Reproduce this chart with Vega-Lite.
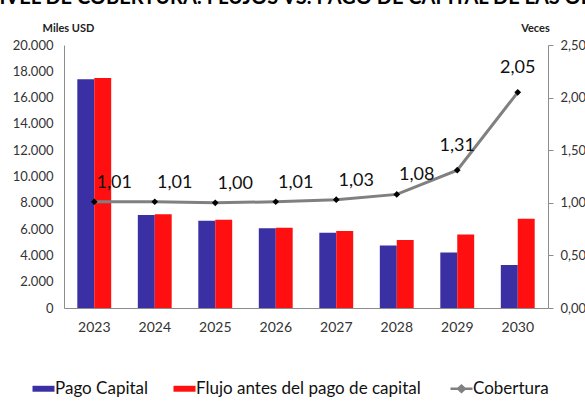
{
  "$schema": "https://vega.github.io/schema/vega-lite/v6.json",
  "width": 484,
  "height": 263,
  "autosize": {"type": "none"},
  "padding": {"left": 64, "top": 45, "right": 37, "bottom": 99},
  "title": {
    "text": "NIVEL DE COBERTURA: FLUJOS VS. PAGO DE CAPITAL DE LAS OBLIGACIONES",
    "anchor": "start",
    "frame": "group",
    "fontSize": 20,
    "fontWeight": "bold",
    "color": "#000000",
    "baseline": "alphabetic",
    "offset": 15,
    "dx": -80,
    "dy": 17
  },
  "config": {
    "font": "Lato",
    "locale": {"number": {"decimal": ",", "thousands": ".", "grouping": [3], "currency": ["$", ""]}},
    "view": {"stroke": null},
    "axis": {"grid": false, "labelColor": "#333333", "domainColor": "#8c8c8c", "tickColor": "#8c8c8c", "titleColor": "#222222"}
  },
  "datasets": {
    "barras": [
      {"anio": "2023", "serie": "Pago Capital", "valor": 17400},
      {"anio": "2023", "serie": "Flujo antes del pago de capital", "valor": 17500},
      {"anio": "2024", "serie": "Pago Capital", "valor": 7070},
      {"anio": "2024", "serie": "Flujo antes del pago de capital", "valor": 7120},
      {"anio": "2025", "serie": "Pago Capital", "valor": 6640},
      {"anio": "2025", "serie": "Flujo antes del pago de capital", "valor": 6720},
      {"anio": "2026", "serie": "Pago Capital", "valor": 6060},
      {"anio": "2026", "serie": "Flujo antes del pago de capital", "valor": 6110},
      {"anio": "2027", "serie": "Pago Capital", "valor": 5730},
      {"anio": "2027", "serie": "Flujo antes del pago de capital", "valor": 5850},
      {"anio": "2028", "serie": "Pago Capital", "valor": 4760},
      {"anio": "2028", "serie": "Flujo antes del pago de capital", "valor": 5170},
      {"anio": "2029", "serie": "Pago Capital", "valor": 4230},
      {"anio": "2029", "serie": "Flujo antes del pago de capital", "valor": 5580},
      {"anio": "2030", "serie": "Pago Capital", "valor": 3270},
      {"anio": "2030", "serie": "Flujo antes del pago de capital", "valor": 6790}
    ],
    "cobertura": [
      {"anio": "2023", "cobertura": 1.01},
      {"anio": "2024", "cobertura": 1.01},
      {"anio": "2025", "cobertura": 1.00},
      {"anio": "2026", "cobertura": 1.01},
      {"anio": "2027", "cobertura": 1.03},
      {"anio": "2028", "cobertura": 1.08},
      {"anio": "2029", "cobertura": 1.31},
      {"anio": "2030", "cobertura": 2.05}
    ]
  },
  "encoding": {
    "x": {
      "field": "anio",
      "type": "nominal",
      "scale": {"paddingInner": 0.44, "paddingOuter": 0.22},
      "axis": {"title": null, "labelAngle": 0, "ticks": false, "labelPadding": 19, "labelFontSize": 14, "labelBaseline": "middle"}
    }
  },
  "layer": [
    {
      "data": {"name": "barras"},
      "mark": {"type": "bar"},
      "encoding": {
        "xOffset": {"field": "serie", "type": "nominal", "sort": ["Pago Capital", "Flujo antes del pago de capital"], "scale": {"paddingInner": 0, "paddingOuter": 0}},
        "y": {
          "field": "valor",
          "type": "quantitative",
          "scale": {"domain": [0, 20000]},
          "axis": {
            "orient": "left",
            "values": [0, 2000, 4000, 6000, 8000, 10000, 12000, 14000, 16000, 18000, 20000],
            "format": ",.0f",
            "ticks": false,
            "labelPadding": 11,
            "labelFontSize": 13,
            "title": "Miles USD",
            "titleAngle": 0,
            "titleX": 4,
            "titleY": -17,
            "titleAlign": "center",
            "titleBaseline": "middle",
            "titleFontSize": 11,
            "titleFontWeight": "bold"
          }
        },
        "color": {
          "field": "serie",
          "type": "nominal",
          "scale": {
            "domain": ["Pago Capital", "Flujo antes del pago de capital", "Cobertura"],
            "range": ["#3A2FA3", "#FF0F0F", "#808080"]
          },
          "legend": {
            "title": null,
            "orient": "none",
            "direction": "horizontal",
            "legendX": -29,
            "legendY": 335,
            "padding": 0,
            "labelFontSize": 17,
            "labelLimit": 400,
            "labelColor": "#111111",
            "labelOffset": 3,
            "columnPadding": 24,
            "symbolSize": 484,
            "symbolStrokeWidth": 2,
            "encode": {
              "symbols": {
                "update": {
                  "shape": {"signal": "datum.label === 'Cobertura' ? 'M-1,0H1M-0.3,0L0,-0.28L0.3,0L0,0.28Z' : 'M-1,-0.27H1V0.27H-1Z'"},
                  "fill": {"signal": "datum.label === 'Cobertura' ? '#000000' : scale('color', datum.value)"},
                  "stroke": {"signal": "datum.label === 'Cobertura' ? '#808080' : scale('color', datum.value)"},
                  "strokeWidth": {"signal": "datum.label === 'Cobertura' ? 2.5 : 0"}
                }
              }
            }
          }
        }
      }
    },
    {
      "data": {"name": "cobertura"},
      "encoding": {
        "y": {
          "field": "cobertura",
          "type": "quantitative",
          "scale": {"domain": [0, 2.5]},
          "axis": {
            "orient": "right",
            "values": [0, 0.5, 1, 1.5, 2, 2.5],
            "format": ".2f",
            "tickSize": 5,
            "labelPadding": 7,
            "labelFontSize": 13,
            "title": "Veces",
            "titleAngle": 0,
            "titleX": -13,
            "titleY": -17,
            "titleAlign": "center",
            "titleBaseline": "middle",
            "titleFontSize": 11,
            "titleFontWeight": "bold"
          }
        }
      },
      "layer": [
        {
          "mark": {"type": "line", "strokeWidth": 3},
          "encoding": {"color": {"datum": "Cobertura"}}
        },
        {
          "mark": {"type": "point", "shape": "diamond", "filled": true, "color": "#000000", "size": 45, "opacity": 1}
        },
        {
          "transform": [{"filter": "datum.anio <= '2028'"}],
          "mark": {"type": "text", "fontSize": 18, "dx": 20, "dy": -19, "baseline": "middle", "color": "#111111"},
          "encoding": {"text": {"field": "cobertura", "type": "quantitative", "format": ".2f"}}
        },
        {
          "transform": [{"filter": "datum.anio > '2028'"}],
          "mark": {"type": "text", "fontSize": 18, "dx": 0, "dy": -24, "baseline": "middle", "color": "#111111"},
          "encoding": {"text": {"field": "cobertura", "type": "quantitative", "format": ".2f"}}
        }
      ]
    }
  ],
  "resolve": {"scale": {"y": "independent"}}
}
